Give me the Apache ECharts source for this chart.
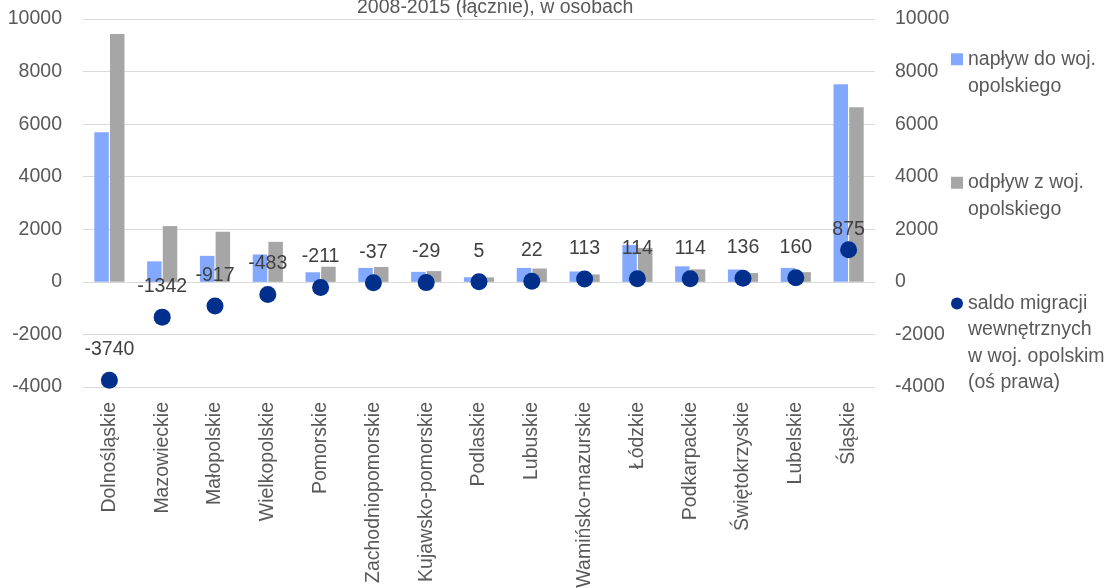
<!DOCTYPE html>
<html><head><meta charset="utf-8">
<script src="https://cdn.jsdelivr.net/npm/echarts@6/dist/echarts.min.js"></script>
<style>html,body{margin:0;padding:0;background:#fff}#c{width:1106px;height:588px}</style>
</head><body><div id="c"></div>
<script>
const categories = ['Dolnośląskie','Mazowieckie','Małopolskie','Wielkopolskie','Pomorskie','Zachodniopomorskie','Kujawsko-pomorskie','Podlaskie','Lubuskie','Wamińsko-mazurskie','Łódzkie','Podkarpackie','Świętokrzyskie','Lubelskie','Śląskie'];
const inflow = [5690, 780, 990, 1040, 365, 530, 380, 175, 530, 395, 1400, 590, 470, 530, 7515];
const outflow = [9430, 2122, 1907, 1523, 576, 567, 409, 170, 508, 282, 1286, 476, 334, 370, 6640];
const saldo = [-3740, -1342, -917, -483, -211, -37, -29, 5, 22, 113, 114, 114, 136, 160, 875];
const axisMin = -4000, axisMax = 10000, axisStep = 2000;
const titleText = '2008-2015 (łącznie), w osobach';
const nameIn = 'napływ do woj. opolskiego';
const nameOut = 'odpływ z woj. opolskiego';
const nameSaldo = 'saldo migracji wewnętrznych w woj. opolskim (oś prawa)';
const legendLines = {};
legendLines[nameIn] = ['napływ do woj.', 'opolskiego'];
legendLines[nameOut] = ['odpływ z woj.', 'opolskiego'];
legendLines[nameSaldo] = ['saldo migracji', 'wewnętrznych', 'w woj. opolskim', '(oś prawa)'];

const FONT = "'Liberation Sans',Arial,sans-serif";
const FS = 19.5;
const TXT = '#595959';
const chart = echarts.init(document.getElementById('c'), null, {renderer: 'canvas'});

// leading blank lines so that the first text line sits level with the icon
function legendText(n) {
  const lines = legendLines[n];
  const pad = new Array(lines.length - 1).fill('');
  return pad.concat(lines).join('\n');
}

function legendOf(name, icon, top, lh) {
  return {
    show: true, left: 951, top: top, padding: 0, orient: 'vertical',
    itemWidth: 12, itemHeight: 12, selectedMode: false,
    data: [{name: name, icon: icon}],
    formatter: legendText,
    textStyle: {fontFamily: FONT, fontSize: FS, lineHeight: lh, color: TXT}
  };
}

// the last marker is drawn slightly raised in the original picture
const saldoData = saldo.map((v, i) => i === saldo.length - 1
  ? {value: v, symbolOffset: [0, -9], label: {distance: 2}} : v);
const plain = v => String(v);

chart.setOption({
  animation: false,
  textStyle: {fontFamily: FONT},
  title: {text: titleText, left: 357, top: -2, padding: 0,
    textStyle: {fontFamily: FONT, fontSize: FS, fontWeight: 'normal', color: TXT, lineHeight: 20}},
  legend: [
    legendOf(nameIn, 'rect', 18.75, 27),
    legendOf(nameOut, 'rect', 142.25, 27),
    legendOf(nameSaldo, 'circle', 210.75, 26.5)
  ],
  grid: {left: 83, right: 231, top: 19, bottom: 201, containLabel: false, outerBoundsMode: 'none'},
  xAxis: {
    type: 'category', data: categories,
    axisLine: {show: false, onZero: false}, axisTick: {show: false},
    axisLabel: {rotate: 90, interval: 0, margin: 15, fontSize: FS, color: TXT, fontFamily: FONT}
  },
  yAxis: [
    {type: 'value', min: axisMin, max: axisMax, interval: axisStep,
      axisLine: {show: false}, axisTick: {show: false},
      splitLine: {lineStyle: {color: '#D9D9D9', width: 1}},
      axisLabel: {fontSize: FS, color: TXT, margin: 21, fontFamily: FONT, formatter: plain}},
    {type: 'value', min: axisMin, max: axisMax, interval: axisStep, position: 'right',
      axisLine: {show: false}, axisTick: {show: false}, splitLine: {show: false},
      axisLabel: {fontSize: FS, color: TXT, margin: 20, fontFamily: FONT, formatter: plain}}
  ],
  series: [
    {name: nameIn, type: 'bar', data: inflow, barWidth: 14.5, barGap: '8%',
      itemStyle: {color: '#82A8FF'}},
    {name: nameOut, type: 'bar', data: outflow, barWidth: 14.5, barGap: '8%',
      itemStyle: {color: '#A6A6A6'}},
    {name: nameSaldo, type: 'scatter', yAxisIndex: 1, data: saldoData, symbolSize: 17,
      itemStyle: {color: '#00308C', opacity: 1}, z: 5,
      label: {show: true, position: 'top', distance: 12, fontSize: FS, color: '#404040',
        fontFamily: FONT, formatter: '{c}'}}
  ]
});
</script></body></html>
